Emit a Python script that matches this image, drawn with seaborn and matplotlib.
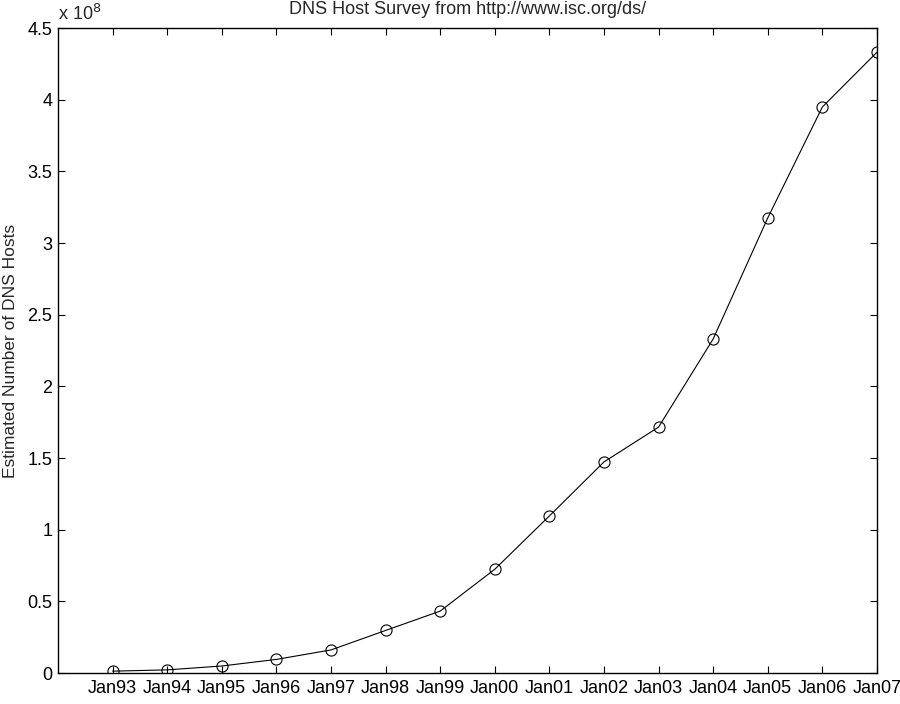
import matplotlib
matplotlib.use("Agg")
import matplotlib.pyplot as plt
import seaborn as sns
import pandas as pd

years = [1993, 1994, 1995, 1996, 1997, 1998, 1999, 2000, 2001, 2002, 2003, 2004, 2005, 2006, 2007]
tick_labels = ["Jan93", "Jan94", "Jan95", "Jan96", "Jan97", "Jan98", "Jan99", "Jan00",
               "Jan01", "Jan02", "Jan03", "Jan04", "Jan05", "Jan06", "Jan07"]
hosts = [1.3e6, 2.2e6, 4.9e6, 9.5e6, 16.1e6, 29.7e6, 43.2e6, 72.4e6,
         109.6e6, 147.3e6, 171.6e6, 233.1e6, 317.6e6, 395.0e6, 433.2e6]
y_ticks = [0, 0.5, 1, 1.5, 2, 2.5, 3, 3.5, 4, 4.5]
y_tick_labels = ["0", "0.5", "1", "1.5", "2", "2.5", "3", "3.5", "4", "4.5"]

sns.set_style("ticks")
plt.rcParams["font.family"] = ["Liberation Sans", "DejaVu Sans"]

df = pd.DataFrame({"year": years, "hosts": [h / 1e8 for h in hosts]})

fig = plt.figure(figsize=(9, 7.04), dpi=100)
ax = fig.add_axes([0.0644, 0.044, 0.91, 0.916])

sns.lineplot(data=df, x="year", y="hosts", ax=ax, color="black", linewidth=0.8,
             marker="o", markersize=8, markerfacecolor="none",
             markeredgecolor="black", markeredgewidth=0.8)

ax.set_xlim(1992, 2007)
ax.set_ylim(0, 4.5)
ax.set_xticks(years)
ax.set_xticklabels(tick_labels, fontsize=13)
ax.set_yticks(y_ticks)
ax.set_yticklabels(y_tick_labels, fontsize=13)
ax.tick_params(direction="in", top=True, right=True, length=5, width=0.8, colors="black")
ax.tick_params(axis="x", pad=5)
ax.tick_params(axis="y", pad=4)
for s in ax.spines.values():
    s.set_linewidth(1.0)
    s.set_color("black")
    s.set_visible(True)

ax.set_xlabel("")
ax.set_ylabel("Estimated Number of DNS Hosts", fontsize=12.5, labelpad=7)
ax.set_title("DNS Host Survey from http://www.isc.org/ds/", fontsize=13, pad=10)
ax.text(0.0, 1.012, r"x 10$^{8}$", transform=ax.transAxes, fontsize=13,
        ha="left", va="baseline")

fig.savefig("out.png", dpi=100)
